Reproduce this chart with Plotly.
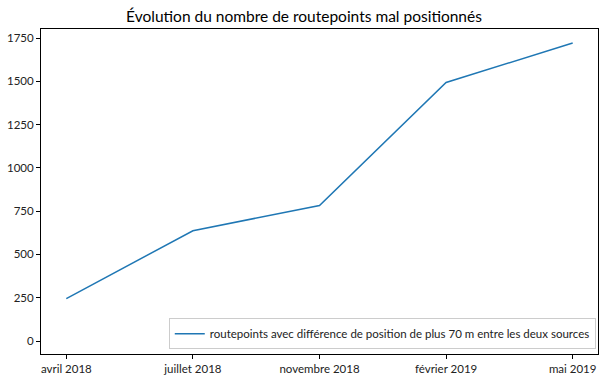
import plotly.graph_objects as go

dates = ["avril 2018", "juillet 2018", "novembre 2018", "février 2019", "mai 2019"]
counts = [245, 637, 783, 1493, 1721]
series_name = "routepoints avec différence de position de plus 70 m entre les deux sources"
title = "Évolution du nombre de routepoints mal positionnés"

fig = go.Figure()
fig.add_trace(go.Scatter(x=list(range(len(dates))), y=counts, mode="lines",
                         name=series_name, line=dict(color="#1f77b4", width=1.5)))

font = "Lato, 'Open Sans', sans-serif"
fig.update_layout(
    width=608, height=379,
    margin=dict(l=41, r=10, t=29, b=25),
    paper_bgcolor="white", plot_bgcolor="white",
    title=dict(text=title, x=0.5, xanchor="center", y=0.955, yanchor="middle",
               font=dict(family=font, size=15.5, color="black")),
    font=dict(family=font, size=11.5, color="#222"),
    showlegend=True,
    legend=dict(x=0.996, y=0.015, xanchor="right", yanchor="bottom",
                bgcolor="rgba(255,255,255,0.8)", bordercolor="#ccc", borderwidth=1,
                font=dict(size=11.5, color="#222"), itemwidth=30),
)
fig.update_xaxes(range=[-0.2, 4.2], tickmode="array", tickvals=list(range(len(dates))),
                 ticktext=dates, showgrid=False, zeroline=False, showline=True,
                 linecolor="black", linewidth=1, mirror=True, ticks="outside",
                 ticklen=4, tickcolor="black", automargin=False)
fig.update_yaxes(range=[-75, 1802], tickvals=[0, 250, 500, 750, 1000, 1250, 1500, 1750],
                 showgrid=False, zeroline=False, showline=True, linecolor="black",
                 linewidth=1, mirror=True, ticks="outside", ticklen=4, tickcolor="black",
                 automargin=False)

fig.write_html("out.html", config={"displayModeBar": False},
               post_script="document.body.style.margin='0';document.body.style.overflow='hidden';")
